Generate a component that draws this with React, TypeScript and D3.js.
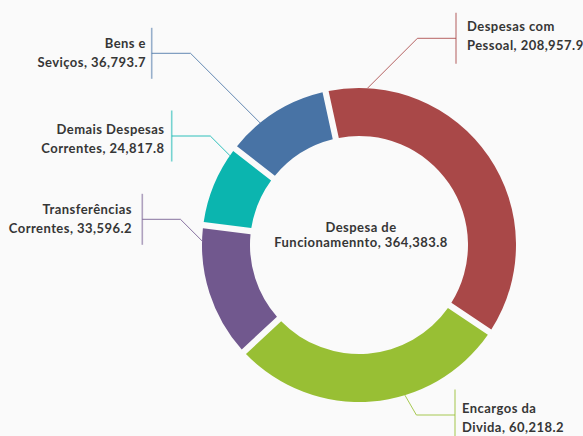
import React from "react";
import * as d3 from "d3";

// ---- data ----
const categories = [
  "Despesas com Pessoal",
  "Encargos da Divida",
  "Transferências Correntes",
  "Demais Despesas Correntes",
  "Bens e Seviços",
];
const valueLabels = ["208,957.9", "60,218.2", "33,596.2", "24,817.8", "36,793.7"];
// slice shares as drawn in the picture (percent of the ring)
const sliceShares = [38.7, 29.2, 13.6, 7.9, 10.6];
const labelLines = [
  ["Despesas com", "Pessoal, 208,957.9"],
  ["Encargos da", "Divida, 60,218.2"],
  ["Transferências", "Correntes, 33,596.2"],
  ["Demais Despesas", "Correntes, 24,817.8"],
  ["Bens e", "Seviços, 36,793.7"],
];
const centerLines = ["Despesa de", "Funcionamennto, 364,383.8"];

// ---- styles / layout ----
const colors = ["#A94848", "#98BF34", "#71588E", "#0BB5AF", "#4873A5"];
const W = 583;
const H = 436;
const cx = 359;
const cy = 245;
const rOuter = 157;
const rInner = 109;
const startDeg = -12.3;
// per-label layout: attach angle on ring (deg), horizontal line y, bracket x, slope, text x, first baseline, anchor
const labelLayout = [
  { angle: 3.1, lineY: 38.3, bracketX: 456, slope: 1, textX: 467, baseY: 31, anchor: "start" },
  { angle: 163, lineY: 415, bracketX: 455, slope: 1.73, textX: 462, baseY: 413.3, anchor: "start" },
  { angle: 271.5, lineY: 219.3, bracketX: 142.3, slope: 1, textX: 132, baseY: 214.3, anchor: "end" },
  { angle: 304.7, lineY: 136, bracketX: 171.7, slope: 1, textX: 164.5, baseY: 134.3, anchor: "end" },
  { angle: 321, lineY: 53.3, bracketX: 151.7, slope: 1, textX: 146, baseY: 48.3, anchor: "end" },
];

const FONT = "Lato, 'Noto Sans', sans-serif";

export default function App() {
  const rad = (d: number) => (d * Math.PI) / 180;
  const pie = d3
    .pie<number>()
    .value((d) => d)
    .sort(null)
    .startAngle(rad(startDeg))
    .endAngle(rad(startDeg + 360))
    .padAngle(0.062);
  const arcs = pie(sliceShares);
  const arc = d3
    .arc<d3.PieArcDatum<number>>()
    .innerRadius(rInner)
    .outerRadius(rOuter)
    .padRadius(100);
  const line = d3.line<[number, number]>();

  return (
    <svg
      width={W}
      height={H}
      style={{ position: "fixed", left: 0, top: 0, background: "#FAFAFA" }}
    >
      <rect width={W} height={H} fill="#FAFAFA" />
      <g transform={`translate(${cx},${cy})`}>
        {arcs.map((a, i) => (
          <path key={categories[i]} d={arc(a) || ""} fill={colors[i]} />
        ))}
      </g>
      {labelLayout.map((l, i) => {
        const ax = cx + rOuter * Math.sin(rad(l.angle));
        const ay = cy - rOuter * Math.cos(rad(l.angle));
        const dir = l.anchor === "start" ? 1 : -1;
        const ex = ax + (dir * Math.abs(ay - l.lineY)) / l.slope;
        const pts: [number, number][] = [
          [ax, ay],
          [ex, l.lineY],
          [l.bracketX, l.lineY],
        ];
        return (
          <g key={"lab" + i}>
            <path d={line(pts) || ""} fill="none" stroke={colors[i]} strokeWidth={1} opacity={0.85} />
            <line
              x1={l.bracketX}
              x2={l.bracketX}
              y1={l.lineY - 25.5}
              y2={l.lineY + 25.5}
              stroke={colors[i]}
              strokeWidth={1.6}
              opacity={0.55}
            />
            <text
              x={l.textX}
              y={l.baseY}
              textAnchor={l.anchor}
              fontFamily={FONT}
              fontWeight={700}
              fontSize={13}
              letterSpacing={0.45}
              fill="#363636"
            >
              {labelLines[i].map((t, j) => (
                <tspan key={j} x={l.textX} y={l.baseY + j * 18.8}>
                  {t}
                </tspan>
              ))}
            </text>
          </g>
        );
      })}
      <text
        x={361}
        y={231.7}
        textAnchor="middle"
        fontFamily={FONT}
        fontWeight={700}
        fontSize={13}
        letterSpacing={0.45}
        fill="#363636"
      >
        {centerLines.map((t, j) => (
          <tspan key={j} x={361} y={231.7 + j * 15}>
            {t}
          </tspan>
        ))}
      </text>
    </svg>
  );
}
